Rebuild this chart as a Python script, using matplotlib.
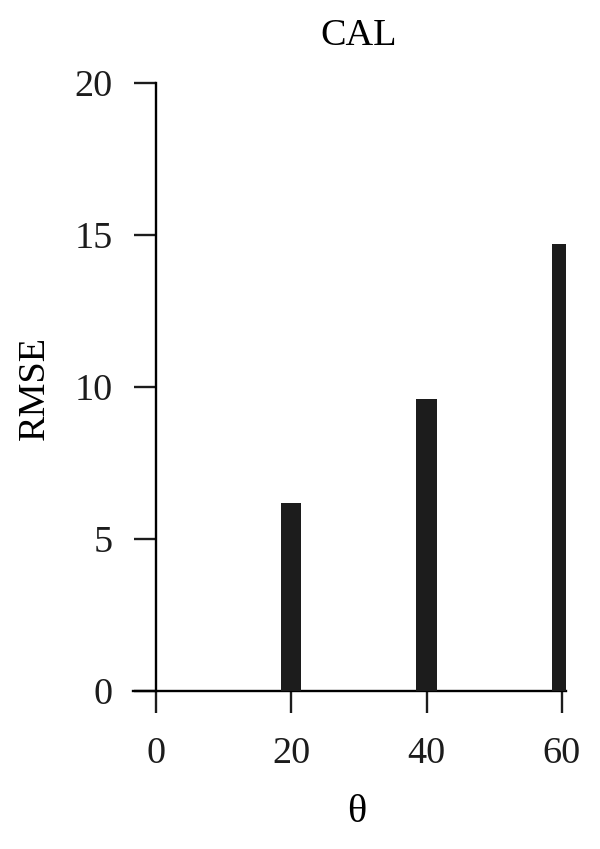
import matplotlib
matplotlib.use('Agg')
import matplotlib.pyplot as plt

# RMSE values for CAL at each theta
theta = [20, 40, 60]
rmse = [6.17, 9.6, 14.7]
x_ticks = [0, 20, 40, 60]
y_ticks = [0, 5, 10, 15, 20]

plt.rcParams['font.family'] = ['Liberation Serif', 'DejaVu Serif']

fig = plt.figure(figsize=(6, 8.49), dpi=100)
ax = fig.add_axes([133 / 600, 158 / 849, 433 / 600, 608 / 849])

ax.bar(theta, rmse, width=3, color='#1c1c1c', zorder=3)

ax.set_xlim(-3.4, 60.6)
ax.set_ylim(0, 20)

for side in ['top', 'right']:
    ax.spines[side].set_visible(False)
ax.spines['left'].set_position(('data', 0))
ax.spines['left'].set_bounds(0, 20)
ax.spines['left'].set_linewidth(1.7)
ax.spines['bottom'].set_linewidth(1.7)

ax.set_xticks(x_ticks)
ax.set_yticks(y_ticks)
ax.tick_params(axis='both', direction='out', length=16, width=1.7,
               labelsize=27.5, colors='#1c1c1c')
ax.tick_params(axis='y', pad=15)
ax.tick_params(axis='x', pad=17)

ax.set_ylabel('RMSE', fontsize=27.5)
ax.yaxis.set_label_coords((35 - 133) / 433, (849 - 388 - 158) / 608)
ax.set_xlabel('θ', fontsize=29)
ax.xaxis.set_label_coords((357 - 133) / 433, (849 - 813 - 158) / 608)
ax.xaxis.label.set_va('center')
ax.yaxis.label.set_va('center')

ax.text(30, 1.0 + (83 - 36) / 608, 'CAL', fontsize=27.5,
        ha='center', va='center', transform=ax.get_xaxis_transform())

fig.savefig('out.png', dpi=100)
